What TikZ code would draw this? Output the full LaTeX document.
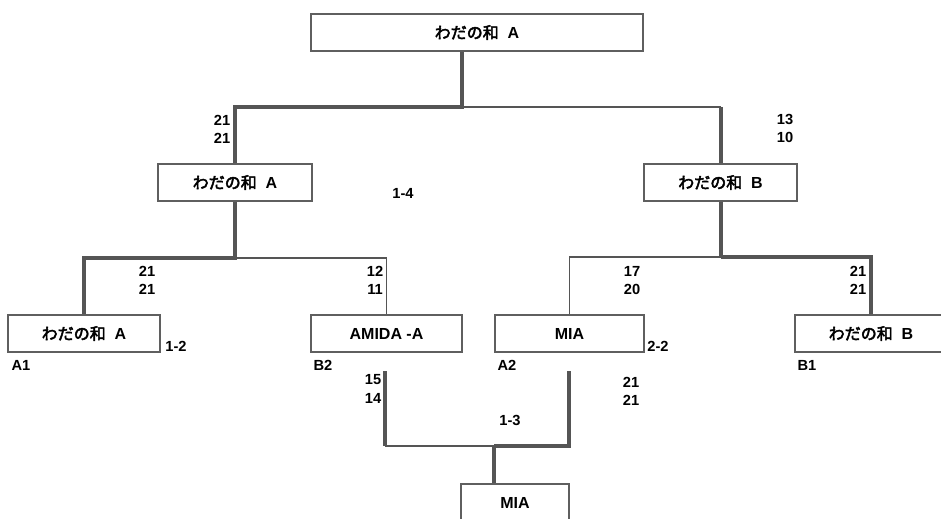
\documentclass[tikz,border=0pt]{standalone}
\usepackage{fontspec}
\setmainfont{Liberation Sans}
\newfontfamily\jp{Noto Sans CJK JP}[AutoFakeBold=3]
\definecolor{linegray}{RGB}{85,85,85}
\definecolor{boxgray}{RGB}{95,95,95}
\tikzset{
  team/.style={draw=boxgray, line width=1.5pt, fill=white, minimum height=27.5pt, inner sep=0pt, font=\bfseries\fontsize{12}{14}\selectfont},
  score/.style={inner sep=0pt, font=\bfseries\fontsize{11}{13}\selectfont},
  win/.style={draw=linegray, line width=3pt},
  half/.style={draw=linegray, line width=2.2pt},
  lose/.style={draw=linegray, line width=1.1pt}
}
\begin{document}
\begin{tikzpicture}[x=0.75pt,y=0.75pt,yscale=-1,xscale=1]
\useasboundingbox (0,0) rectangle (941,518);

%Shape: Rectangle [id:top]
\node[team, minimum width=249pt] (top) at (477,32.5) {{\jp わだの和}\ \ A};
%Shape: Rectangle [id:semis]
\node[team, minimum width=115.5pt] (sfA) at (235,182.5) {{\jp わだの和}\ \ A};
\node[team, minimum width=115pt] (sfB) at (720.5,182.5) {{\jp わだの和}\ \ B};
%Shape: Rectangle [id:pool]
\node[team, minimum width=114pt] (qA1) at (84,333.5) {{\jp わだの和}\ \ A};
\node[team, minimum width=113pt] (qB2) at (386.5,333.5) {AMIDA -A};
\node[team, minimum width=112pt] (qA2) at (569.5,333.5) {MIA};
\node[team, minimum width=114pt] (qB1) at (871,333.5) {{\jp わだの和}\ \ B};
%Shape: Rectangle [id:third]
\node[team, minimum width=81pt, minimum height=28.5pt] (fin) at (515,503) {MIA};

%Straight Lines [id:final]
\coordinate (j1) at (462,107);
\draw[win] (top.south -| j1) -- (j1) -| (sfA.north);
\draw[lose] (j1) -- (j1 -| sfB.north);
\draw[win] (j1 -| sfB.north) -- (sfB.north);
%Straight Lines [id:semiA]
\coordinate (j2) at (235,258);
\draw[win] (sfA.south) -- (j2) -| (qA1.north);
\draw[lose] (j2) -| (qB2.north);
%Straight Lines [id:semiB]
\coordinate (j3) at (720.5,257);
\draw[win] (sfB.south) -- (j3);
\draw[lose] (j3) -| (qA2.north);
\draw[win] (j3) -| (qB1.north);
%Straight Lines [id:third]
\coordinate (b2) at (385,371);
\coordinate (a2) at (569,371);
\coordinate (j4) at (494,446);
\draw[win] (b2) -- (b2 |- j4);
\draw[half] (b2 |- j4) -- (j4);
\draw[win] (j4) -- (j4 -| a2) -- (a2);
\draw[win] (j4) -- (j4 |- fin.north);

%Text scores
\node[score] (f1) at (222,120) {21};
\node[score] (f2) at (222,138) {21};
\node[score] (f3) at (785,119) {13};
\node[score] (f4) at (785,137) {10};
\node[score] (m14) at (403,193) {1-4};
\node[score] (s1) at (147,271) {21};
\node[score] (s2) at (147,289) {21};
\node[score] (s3) at (375,271) {12};
\node[score] (s4) at (375,289) {11};
\node[score] (s5) at (632,271) {17};
\node[score] (s6) at (632,289) {20};
\node[score] (s7) at (858,271) {21};
\node[score] (s8) at (858,289) {21};
\node[score] (m12) at (176,346) {1-2};
\node[score] (m22) at (658,346) {2-2};
\node[score] (nA1) at (21,365) {A1};
\node[score] (nB2) at (323,365) {B2};
\node[score] (nA2) at (507,365) {A2};
\node[score] (nB1) at (807,365) {B1};
\node[score] (t1) at (373,380) {15};
\node[score] (t2) at (373,398) {14};
\node[score] (t3) at (631,382) {21};
\node[score] (t4) at (631,400) {21};
\node[score] (m13) at (510,420) {1-3};
\end{tikzpicture}
\end{document}
